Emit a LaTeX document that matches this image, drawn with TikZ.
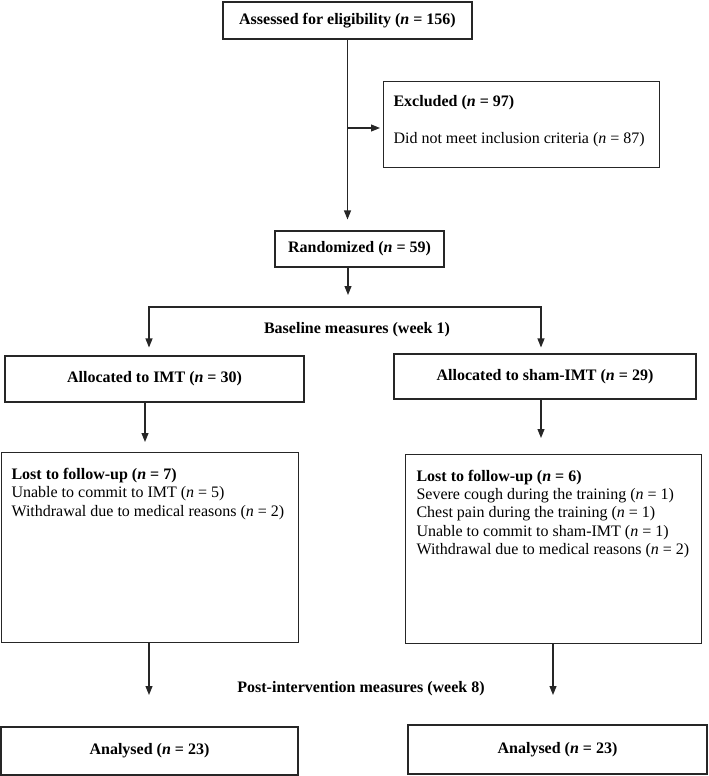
\documentclass[tikz,border=0pt]{standalone}
\usepackage{fontspec}
\setmainfont{Liberation Serif}
\usetikzlibrary{arrows.meta}
\newcommand\nv{\textit{n}}
\begin{document}
\begin{tikzpicture}[x=1pt,y=-1pt,
  line width=1.1pt,
  box/.style={draw=black!85, inner sep=0pt, font=\fontsize{16}{18.5}\selectfont\bfseries},
  tbox/.style={draw=black!85, inner sep=0pt, anchor=north west},
  lbl/.style={inner sep=0pt, font=\fontsize{16}{18.5}\selectfont\bfseries},
  conn/.style={draw=black!85},
  arr/.style={conn, -{Triangle[length=9pt,width=7pt]}},
]
\useasboundingbox (0,0) rectangle (709,776);

% boxes
\node[box, minimum width=249pt, minimum height=37pt] (assess) at (347.5,20.5) {Assessed for eligibility (\nv{} = 156)};
\node[tbox] (excl) at (383,81) {\begin{minipage}[t][86pt][t]{276pt}\leftskip=10pt\fontsize{16}{37}\selectfont\vspace*{13.5pt}\textbf{Excluded (\nv{} = 97)}\par Did not meet inclusion criteria (\nv{} = 87)\end{minipage}};
\node[box, minimum width=169pt, minimum height=36pt] (rand) at (359.5,249) {Randomized (\nv{} = 59)};
\node[box, minimum width=299pt, minimum height=46pt] (alloc1) at (154.5,379) {Allocated to IMT (\nv{} = 30)};
\node[box, minimum width=302pt, minimum height=45pt] (alloc2) at (545,376.5) {Allocated to sham-IMT (\nv{} = 29)};
\node[tbox] (lost1) at (1,452) {\begin{minipage}[t][190pt][t]{297pt}\leftskip=10pt\fontsize{16}{18.5}\selectfont\vspace*{15.5pt}\textbf{Lost to follow-up (\nv{} = 7)}\par Unable to commit to IMT (\nv{} = 5)\par Withdrawal due to medical reasons (\nv{} = 2)\end{minipage}};
\node[tbox] (lost2) at (405,454) {\begin{minipage}[t][189pt][t]{296pt}\leftskip=11pt\fontsize{16}{18.3}\selectfont\vspace*{15.5pt}\textbf{Lost to follow-up (\nv{} = 6)}\par Severe cough during the training (\nv{} = 1)\par Chest pain during the training (\nv{} = 1)\par Unable to commit to sham-IMT (\nv{} = 1)\par Withdrawal due to medical reasons (\nv{} = 2)\end{minipage}};
\node[box, minimum width=297pt, minimum height=48pt] (an1) at (149.5,751) {Analysed (\nv{} = 23)};
\node[box, minimum width=299pt, minimum height=49pt] (an2) at (557.5,749.5) {Analysed (\nv{} = 23)};

% labels
\node[lbl] (base) at (357,330) {Baseline measures (week 1)};
\node[lbl] (post) at (361,689) {Post-intervention measures (week 8)};

% coordinates
\coordinate (b1) at (348,128);
\coordinate (r1) at (348,295);
\coordinate (sl) at (149,307);
\coordinate (sr) at (541,307);
\coordinate (d1) at (145,420);
\coordinate (d2) at (541,420);
\coordinate (e1) at (149,695);
\coordinate (e2) at (553,695);

% connectors
\draw[arr, shorten >=11pt] (assess.south) -- (assess.south |- rand.north);
\draw[arr, shorten >=3pt] (b1) -- (b1 -| excl.west);
\draw[arr] (r1 |- rand.south) -- (r1);
\draw[arr, shorten >=8pt] (sr) -- (sl) -- (sl |- alloc1.north);
\draw[arr, shorten >=6pt] (sl) -- (sr) -- (sr |- alloc2.north);
\draw[arr, shorten >=10pt] (d1 |- alloc1.south) -- (d1 |- lost1.north);
\draw[arr, shorten >=16pt] (d2 |- alloc2.south) -- (d2 |- lost2.north);
\draw[arr] (e1 |- lost1.south) -- (e1);
\draw[arr] (e2 |- lost2.south) -- (e2);
\end{tikzpicture}
\end{document}
